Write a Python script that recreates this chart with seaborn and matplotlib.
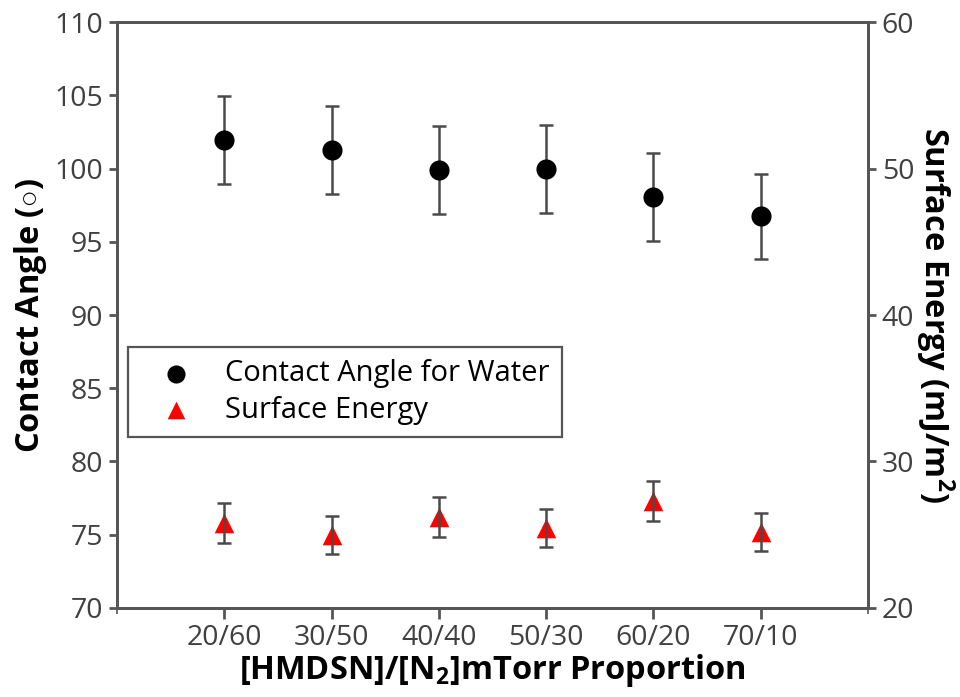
import matplotlib
matplotlib.use("Agg")
import matplotlib.pyplot as plt
import seaborn as sns
import pandas as pd

# data
ratios = ["20/60", "30/50", "40/40", "50/30", "60/20", "70/10"]
contact_angle = [101.95, 101.3, 99.9, 100.0, 98.05, 96.75]
contact_err = [3.0, 3.0, 3.0, 3.0, 3.0, 2.9]
surface_energy = [25.8, 24.95, 26.2, 25.45, 27.3, 25.2]
surface_err = [1.35, 1.3, 1.35, 1.3, 1.35, 1.3]

sns.set_style("white")
plt.rcParams["font.family"] = ["Open Sans", "DejaVu Sans"]
plt.rcParams["mathtext.fontset"] = "custom"
plt.rcParams["mathtext.rm"] = "Open Sans"
plt.rcParams["mathtext.bf"] = "Open Sans:bold"
plt.rcParams["text.color"] = "black"

pos = list(range(1, len(ratios) + 1))
df = pd.DataFrame({"pos": pos, "angle": contact_angle, "aerr": contact_err,
                   "energy": surface_energy, "eerr": surface_err})

gray = "#555555"
tick_col = "#404040"

fig = plt.figure(figsize=(9.6, 6.97), dpi=100)
ax = fig.add_axes([0.122, 0.128, 0.782, 0.840])
ax2 = ax.twinx()

ax.errorbar(df["pos"], df["angle"], yerr=df["aerr"], fmt="none",
            ecolor="#4a4a4a", elinewidth=1.8, capsize=5, capthick=1.8, zorder=2)
sns.scatterplot(data=df, x="pos", y="angle", ax=ax, color="black", marker="o",
                s=210, edgecolor="black", linewidth=0, zorder=3,
                label="Contact Angle for Water", legend=False)

sns.scatterplot(data=df, x="pos", y="energy", ax=ax2, color="red", marker="^",
                s=200, edgecolor="red", linewidth=0, zorder=2,
                label="Surface Energy", legend=False)
ax2.errorbar(df["pos"], df["energy"], yerr=df["eerr"], fmt="none",
             ecolor="#4a4a4a", elinewidth=1.8, capsize=5, capthick=1.8, zorder=3)

ax.set_xlim(0, 7)
ax.set_ylim(70, 110)
ax2.set_ylim(20, 60)
ax.set_xticks(pos)
ax.set_xticklabels(ratios)
ax.set_xticks([0, 7], minor=True)
ax.set_yticks(range(70, 111, 5))
ax2.set_yticks(range(20, 61, 10))

for a in (ax, ax2):
    for s in a.spines.values():
        s.set_color(gray)
        s.set_linewidth(2)
    a.tick_params(axis="both", which="major", length=6, width=2, color=gray,
                  labelsize=20.5, labelcolor=tick_col, direction="out", pad=4)
    a.tick_params(axis="x", which="minor", length=4, width=1.2, color=gray)
ax.tick_params(axis="x", which="major", length=8)
ax.tick_params(left=True, bottom=True, which="both")
ax2.tick_params(right=True)

ax.set_xlabel("[HMDSN]/[N$_\\mathbf{2}$]mTorr Proportion", fontsize=23.5,
              fontweight="bold", color="black", labelpad=0)
ax.set_ylabel("Contact Angle ($\\circ$)", fontsize=23.5, fontweight="bold",
              color="black", labelpad=4)
ax2.set_ylabel("Surface Energy (mJ/m$^\\mathbf{2}$)", fontsize=23.5,
               fontweight="bold", color="black", rotation=270, labelpad=30)

h1, l1 = ax.get_legend_handles_labels()
h2, l2 = ax2.get_legend_handles_labels()
leg = ax2.legend(h1 + h2, l1 + l2, loc="upper left", bbox_to_anchor=(0.015, 0.445),
                 borderaxespad=0, fontsize=21, frameon=True, fancybox=False,
                 framealpha=1, edgecolor=gray, handletextpad=0.5, handlelength=2.4,
                 borderpad=0.42, labelspacing=0.25, markerscale=0.9)
leg.get_frame().set_linewidth(1.6)

fig.savefig("out.png", dpi=100)
